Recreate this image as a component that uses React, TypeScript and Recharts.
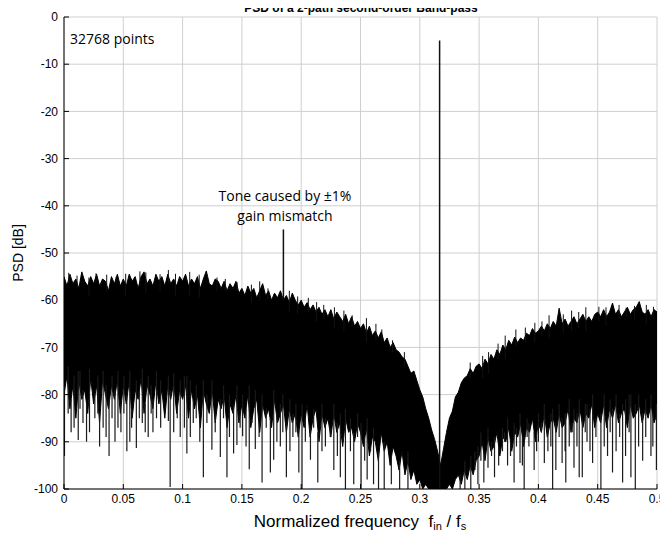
import React from 'react';
import { ComposedChart, Area, Line, XAxis, YAxis, CartesianGrid } from 'recharts';

// one FFT bin every 0.0025 of fs (201 bins, 0 .. 0.5)
const binStep = 0.0025;

// upper edge of the noise floor [dB]
const noiseTop = [
  -55, -57, -54.5, -56.5, -55.5, -57.5, -54, -56, -57, -55, -56.5, -54.5, -57, -55.5, -56, -58, -55, -56.5, -54.5, -57,
  -55.5, -57, -54.5, -56, -55, -57.5, -55, -54, -56.5, -55.5, -57, -54.5, -56, -55, -57, -54.5, -56.5, -55.5, -57, -55,
  -56, -54.5, -57, -55.5, -56.5, -55, -57.5, -55.5, -53.8, -56.5, -57, -55.5, -56, -57.5, -56, -58, -56.5, -57.5, -56, -58.5,
  -57.5, -59, -57, -58.5, -57.5, -59.5, -58, -56.5, -59, -58, -60, -58.5, -59.5, -58, -60, -59, -60.5, -58.5, -60, -61,
  -60, -61.5, -60.5, -62, -61, -62.5, -61.5, -63, -62, -63.5, -62, -64, -62.5, -63.5, -64.5, -63, -65, -63.5, -65.5, -64.5,
  -66, -65, -67, -65.5, -67.5, -66.5, -68, -66.7, -69, -68, -70, -69, -70.5, -71, -72, -72.5, -74, -75.5, -75, -77,
  -79, -80.5, -83, -85, -87.5, -89.5, -92, -95, -91.5, -88, -85, -83.5, -80.5, -79.5, -77.5, -76.5, -76, -74.5, -75.5, -74,
  -73.5, -74.5, -72.5, -73.5, -71.5, -72.5, -70.5, -71.5, -69.5, -70.5, -68.5, -69.5, -67.8, -69, -68, -68.5, -67, -67.5, -66, -67,
  -66.5, -65.5, -66.5, -65, -66, -64.5, -65.5, -61.7, -65, -64, -65.5, -64.5, -63.5, -65, -64, -63, -64.5, -63.5, -64.5, -63,
  -62.5, -63.5, -62, -63.5, -62.5, -60.6, -63, -62, -63.5, -62.5, -61.5, -63, -62, -61.5, -60.3, -62.5, -63, -62, -63.5, -62,
  -62.5,
];

// lower edge of the solid black part [dB]
const noiseFloor = [
  -80, -76, -83, -78, -85, -77, -81, -79, -84, -76.5, -82, -78, -86, -77, -80, -83, -78, -81, -77, -84,
  -78, -82, -77, -85, -79, -81, -76.5, -84, -78, -80, -83, -77, -82, -79, -85, -78, -81, -77.5, -84, -79,
  -81, -78, -85, -79, -83, -80, -87, -79, -82, -84, -79, -86, -81, -83, -80, -87, -82, -84, -80, -86,
  -82, -85, -80, -87, -83, -81, -88, -82, -85, -83, -87, -81, -86, -84, -82, -88, -83, -86, -84, -89,
  -84, -87, -82, -89, -85, -83, -90, -84, -87, -85, -89, -84, -88, -86, -91, -85, -88, -87, -90, -86,
  -88, -91, -87, -93, -89, -90, -94, -88, -92, -90, -95, -91, -93, -96, -92, -97, -94, -98, -96, -99,
  -98, -100, -99, -100, -100, -100, -100, -100, -100, -100, -99, -100, -98, -97, -99, -96, -98, -95, -97, -94,
  -93, -90, -94, -89, -92, -91, -88, -93, -89, -90, -87, -92, -88, -89, -86, -91, -87, -88, -85, -90,
  -86, -88, -84, -89, -86, -85, -88, -84, -87, -86, -83, -88, -85, -86, -83, -87, -84, -85, -82, -87,
  -84, -86, -82, -87, -83, -85, -82, -86, -84, -83, -87, -82, -85, -84, -82, -86, -83, -85, -82, -86,
  -84,
];

// deep notches below the floor: [frequency, dB]
const notches: [number, number][] = [
  [0.0004, -93], [0.006, -88], [0.012, -89.6], [0.016, -86], [0.019, -90], [0.026, -85], [0.03, -91],
  [0.033, -87], [0.038, -93], [0.043, -90], [0.048, -88], [0.053, -92], [0.057, -87], [0.061, -91.3],
  [0.066, -86], [0.071, -89], [0.075, -88], [0.078, -85], [0.088, -85.6], [0.0895, -99.6], [0.098, -89],
  [0.1036, -92.5], [0.109, -86], [0.1175, -97.5], [0.1247, -91.7], [0.1318, -93.2], [0.1374, -97.5],
  [0.143, -92.5], [0.1458, -90.7], [0.1506, -88.8], [0.1562, -95.8], [0.1613, -91.5], [0.167, -98.6],
  [0.174, -96.5], [0.1768, -93.8], [0.1824, -91], [0.1875, -97.5], [0.193, -89], [0.198, -96.5],
  [0.2007, -100], [0.2078, -93.8], [0.214, -98.6], [0.2204, -91], [0.2275, -96], [0.233, -97.5],
  [0.2373, -100], [0.2443, -99], [0.2505, -100], [0.2556, -98], [0.261, -99], [0.2652, -100],
  [0.27, -100], [0.276, -99], [0.283, -100], [0.29, -100], [0.334, -100], [0.338, -100], [0.343, -100],
  [0.349, -99], [0.354, -98.6], [0.3575, -95.5], [0.363, -97.5], [0.3697, -92], [0.374, -95],
  [0.3795, -98.6], [0.3845, -94.5], [0.388, -100], [0.392, -91], [0.3964, -96], [0.4, -90],
  [0.405, -94.5], [0.408, -92], [0.412, -100], [0.4147, -96], [0.42, -94.5], [0.4231, -98.6],
  [0.426, -91], [0.43, -95.5], [0.4344, -97.5], [0.437, -97.5], [0.441, -90], [0.4457, -94.5],
  [0.4527, -100], [0.4583, -93], [0.4625, -96.5], [0.471, -98.6], [0.478, -97.5], [0.4817, -100],
  [0.4879, -94], [0.4949, -93], [0.4995, -96],
];

// shorter dark streaks hanging off the floor: [frequency, dB]
const streaks: [number, number][] = [
  [0.0035, -84], [0.0085, -87], [0.0135, -83], [0.0215, -88], [0.0285, -84], [0.0355, -89], [0.0405, -85],
  [0.0455, -87], [0.0505, -84], [0.0555, -90], [0.0635, -85], [0.0685, -88], [0.0735, -84], [0.0815, -87],
  [0.0855, -83], [0.0925, -88], [0.0955, -85], [0.1015, -87], [0.1065, -89], [0.1115, -85], [0.1145, -90],
  [0.1205, -86], [0.1275, -88], [0.1345, -85], [0.1395, -89], [0.1485, -87], [0.1535, -91], [0.1585, -86],
  [0.1645, -89], [0.1705, -87], [0.1795, -90], [0.1845, -88], [0.1905, -92], [0.1955, -88], [0.2035, -90],
  [0.2105, -87], [0.2175, -92], [0.2245, -89], [0.2305, -93], [0.2355, -90], [0.2415, -92], [0.2475, -89],
  [0.2535, -94], [0.2585, -92], [0.3465, -96], [0.3515, -94], [0.3605, -93], [0.3665, -95], [0.3715, -90],
  [0.3765, -93], [0.3815, -91], [0.3865, -95], [0.3905, -89], [0.3985, -92], [0.4025, -88], [0.4105, -91],
  [0.4175, -89], [0.4225, -92], [0.4285, -88], [0.4325, -91], [0.4395, -88], [0.4435, -92], [0.4485, -89],
  [0.4555, -91], [0.4605, -88], [0.4655, -92], [0.4685, -89], [0.4735, -93], [0.4765, -88], [0.4845, -91],
  [0.4905, -89], [0.4965, -91],
];

// thin peaks sticking out of the top edge: [frequency, dB]
const peaks: [number, number][] = [
  [0.004, -54.2], [0.011, -54.8], [0.021, -55.2], [0.027, -54.3], [0.036, -54.6], [0.044, -55], [0.052, -54.4],
  [0.064, -53.9], [0.069, -54.1], [0.081, -54.5], [0.088, -53.6], [0.094, -54.4], [0.106, -54], [0.114, -54.6],
  [0.129, -55.2], [0.136, -55.5], [0.146, -56.2], [0.158, -56.7], [0.165, -56], [0.172, -57.5], [0.19, -58],
  [0.197, -59.2], [0.206, -59.5], [0.213, -60.4], [0.219, -61], [0.228, -61.5], [0.236, -62.2], [0.243, -63.2],
  [0.255, -63.8], [0.263, -65], [0.268, -66.2], [0.277, -68.5], [0.287, -71], [0.3425, -73.2], [0.353, -71.8],
  [0.358, -71], [0.366, -69.2], [0.372, -67.5], [0.381, -66.2], [0.389, -65.8], [0.397, -64.8], [0.403, -64.5],
  [0.409, -63.2], [0.421, -63], [0.428, -62.2], [0.434, -62.5], [0.44, -61.5], [0.451, -61.4], [0.457, -61.5],
  [0.468, -61], [0.474, -61.6], [0.481, -61.2], [0.491, -61], [0.497, -61.4],
];

// discrete tones: [frequency, base dB, peak dB]
const tones: [number, number, number][] = [
  [0.185, -60, -45],
  [0.3167, -100, -5],
];

const xTicks = [0, 0.05, 0.1, 0.15, 0.2, 0.25, 0.3, 0.35, 0.4, 0.45, 0.5];
const yTicks = [-100, -90, -80, -70, -60, -50, -40, -30, -20, -10, 0];

const bandData = noiseTop.map((hi, i) => ({ f: i * binStep, band: [noiseFloor[i], hi] }));

const binOf = (f: number) => Math.min(noiseTop.length - 1, Math.round(f / binStep));

const downData = [...notches, ...streaks].flatMap(([f, db]) => [
  { f, v: noiseFloor[binOf(f)] + 2 },
  { f, v: db },
  { f, v: null },
]);

const upData = peaks.flatMap(([f, db]) => [
  { f, v: noiseTop[binOf(f)] - 2 },
  { f, v: db },
  { f, v: null },
]);

const toneData = tones.flatMap(([f, base, peak]) => [
  { f, v: base },
  { f, v: peak },
  { f, v: null },
]);

const tickFont = { fontFamily: '"Liberation Sans", Arial, sans-serif', fontSize: 12, fill: '#000' };
const blank = () => '';

const overlay: React.CSSProperties = { position: 'absolute', zIndex: 5, whiteSpace: 'nowrap' };

export default function App() {
  return (
    <div style={{ position: 'relative', width: 668, height: 539, margin: -8, background: '#fff', overflow: 'hidden' }}>
      <ComposedChart width={668} height={539} margin={{ top: 17, right: 11, bottom: 20, left: 14 }}>
        <CartesianGrid stroke="#cfcfcf" strokeWidth={1} />
        <XAxis
          dataKey="f"
          type="number"
          domain={[0, 0.5]}
          ticks={xTicks}
          allowDataOverflow
          height={30}
          tickSize={-5}
          tickMargin={10}
          tick={tickFont}
          tickFormatter={(v: number) => String(v)}
          axisLine={{ stroke: '#000' }}
          tickLine={{ stroke: '#000' }}
        />
        <XAxis
          xAxisId="top"
          orientation="top"
          type="number"
          domain={[0, 0.5]}
          ticks={xTicks}
          height={0}
          tickSize={-5}
          tickFormatter={blank}
          axisLine={{ stroke: '#000' }}
          tickLine={{ stroke: '#000' }}
        />
        <YAxis
          type="number"
          domain={[-100, 0]}
          ticks={yTicks}
          allowDataOverflow
          width={50}
          tickSize={-5}
          tickMargin={11}
          tick={tickFont}
          axisLine={{ stroke: '#000' }}
          tickLine={{ stroke: '#000' }}
        />
        <YAxis
          yAxisId="right"
          orientation="right"
          type="number"
          domain={[-100, 0]}
          ticks={yTicks}
          width={0}
          tickSize={-5}
          tickFormatter={blank}
          axisLine={{ stroke: '#000' }}
          tickLine={{ stroke: '#000' }}
        />
        <Area
          data={bandData}
          dataKey="band"
          type="linear"
          stroke="#000"
          strokeWidth={1}
          fill="#000"
          fillOpacity={1}
          isAnimationActive={false}
        />
        <Line data={downData} dataKey="v" type="linear" stroke="#1a1a1a" strokeWidth={1.2} dot={false} isAnimationActive={false} />
        <Line data={upData} dataKey="v" type="linear" stroke="#111" strokeWidth={1} dot={false} isAnimationActive={false} />
        <Line data={toneData} dataKey="v" type="linear" stroke="#111" strokeWidth={1.5} dot={false} isAnimationActive={false} />
      </ComposedChart>

      <div
        style={{
          ...overlay,
          left: 0,
          width: 722,
          top: 1,
          textAlign: 'center',
          font: 'bold 12px/15px "Liberation Sans", Arial, sans-serif',
        }}
      >
        PSD of a 2-path second-order Band-pass
      </div>
      <div style={{ ...overlay, left: 70, top: 29, font: '14px "Open Sans", sans-serif' }}>32768 points</div>
      <div
        style={{
          ...overlay,
          left: 185,
          width: 200,
          top: 186,
          textAlign: 'center',
          font: '14px/20px "Open Sans", sans-serif',
        }}
      >
        Tone caused by ±1%
        <br />
        gain mismatch
      </div>
      <div
        style={{
          ...overlay,
          left: 18,
          top: 253,
          transform: 'translate(-50%, -50%) rotate(-90deg)',
          font: '14px "Liberation Sans", Arial, sans-serif',
        }}
      >
        PSD [dB]
      </div>
      <div
        style={{
          ...overlay,
          left: 0,
          width: 720,
          top: 512,
          textAlign: 'center',
          font: '17px "Liberation Sans", Arial, sans-serif',
        }}
      >
        Normalized frequency&nbsp;&nbsp;f<span style={{ fontSize: 11, verticalAlign: -3 }}>in</span> / f
        <span style={{ fontSize: 11, verticalAlign: -3 }}>s</span>
      </div>
    </div>
  );
}
